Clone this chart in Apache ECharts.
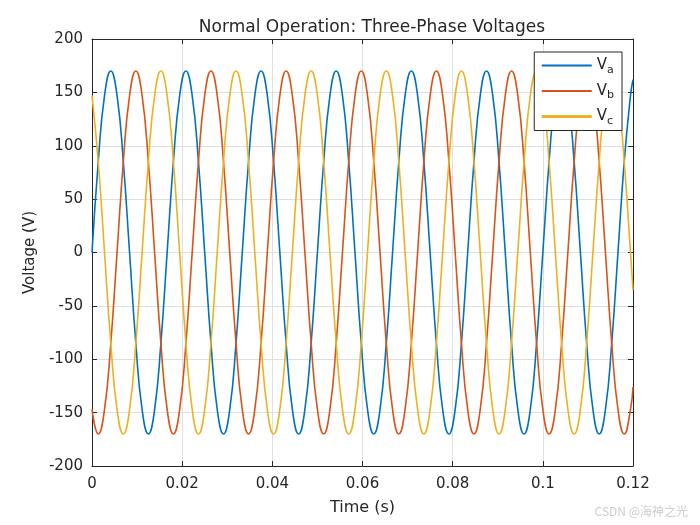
<!DOCTYPE html>
<html>
<head>
<meta charset="utf-8">
<title>Normal Operation: Three-Phase Voltages</title>
<script src="https://cdn.jsdelivr.net/npm/echarts@6/dist/echarts.min.js"></script>
<style>
  html, body { margin: 0; padding: 0; background: #fff; }
  #chart { width: 700px; height: 525px; }
</style>
</head>
<body>
<div id="chart"></div>
<script>
// time samples (s), one row per 60 Hz cycle
var timeS = [
  0, 0.001389, 0.002778, 0.004167, 0.005556, 0.006944, 0.008333, 0.009722, 0.011111, 0.0125, 0.013889, 0.015278,
  0.016667, 0.018056, 0.019444, 0.020833, 0.022222, 0.023611, 0.025, 0.026389, 0.027778, 0.029167, 0.030556, 0.031944,
  0.033333, 0.034722, 0.036111, 0.0375, 0.038889, 0.040278, 0.041667, 0.043056, 0.044444, 0.045833, 0.047222, 0.048611,
  0.05, 0.051389, 0.052778, 0.054167, 0.055556, 0.056944, 0.058333, 0.059722, 0.061111, 0.0625, 0.063889, 0.065278,
  0.066667, 0.068056, 0.069444, 0.070833, 0.072222, 0.073611, 0.075, 0.076389, 0.077778, 0.079167, 0.080556, 0.081944,
  0.083333, 0.084722, 0.086111, 0.0875, 0.088889, 0.090278, 0.091667, 0.093056, 0.094444, 0.095833, 0.097222, 0.098611,
  0.1, 0.101389, 0.102778, 0.104167, 0.105556, 0.106944, 0.108333, 0.109722, 0.111111, 0.1125, 0.113889, 0.115278,
  0.116667, 0.118056, 0.119444, 0.12
];

// phase voltages (V)
var va = [
  0, 85, 147, 170, 147, 85, 0, -85, -147, -170, -147, -85,
  0, 85, 147, 170, 147, 85, 0, -85, -147, -170, -147, -85,
  0, 85, 147, 170, 147, 85, 0, -85, -147, -170, -147, -85,
  0, 85, 147, 170, 147, 85, 0, -85, -147, -170, -147, -85,
  0, 85, 147, 170, 147, 85, 0, -85, -147, -170, -147, -85,
  0, 85, 147, 170, 147, 85, 0, -85, -147, -170, -147, -85,
  0, 85, 147, 170, 147, 85, 0, -85, -147, -170, -147, -85,
  0, 85, 147, 162
];
var vb = [
  -147, -170, -147, -85, 0, 85, 147, 170, 147, 85, 0, -85,
  -147, -170, -147, -85, 0, 85, 147, 170, 147, 85, 0, -85,
  -147, -170, -147, -85, 0, 85, 147, 170, 147, 85, 0, -85,
  -147, -170, -147, -85, 0, 85, 147, 170, 147, 85, 0, -85,
  -147, -170, -147, -85, 0, 85, 147, 170, 147, 85, 0, -85,
  -147, -170, -147, -85, 0, 85, 147, 170, 147, 85, 0, -85,
  -147, -170, -147, -85, 0, 85, 147, 170, 147, 85, 0, -85,
  -147, -170, -147, -126
];
var vc = [
  147, 85, 0, -85, -147, -170, -147, -85, 0, 85, 147, 170,
  147, 85, 0, -85, -147, -170, -147, -85, 0, 85, 147, 170,
  147, 85, 0, -85, -147, -170, -147, -85, 0, 85, 147, 170,
  147, 85, 0, -85, -147, -170, -147, -85, 0, 85, 147, 170,
  147, 85, 0, -85, -147, -170, -147, -85, 0, 85, 147, 170,
  147, 85, 0, -85, -147, -170, -147, -85, 0, 85, 147, 170,
  147, 85, 0, -85, -147, -170, -147, -85, 0, 85, 147, 170,
  147, 85, 0, -35
];

var seriesNames = ["Va", "Vb", "Vc"];
var seriesColors = ["#0072BD", "#D95319", "#EDB120"];
var seriesValues = [va, vb, vc];

var font = "'DejaVu Sans', 'Liberation Sans', Arial, sans-serif";
var textColor = "#262626";

function pairs(vals) {
  var out = [];
  for (var i = 0; i < vals.length; i++) {
    out.push([timeS[i], vals[i]]);
  }
  return out;
}

var series = [];
for (var i = 0; i < seriesNames.length; i++) {
  series.push({
    name: seriesNames[i],
    type: "line",
    data: pairs(seriesValues[i]),
    symbol: "none",
    smooth: 0.5,
    color: seriesColors[i],
    lineStyle: { width: 1.6, color: seriesColors[i] }
  });
}

// axis settings shared by bottom/left and the mirrored top/right box axes
function boxAxis(pos, isX, showLabel) {
  return {
    type: "value",
    position: pos,
    min: isX ? 0 : -200,
    max: isX ? 0.12 : 200,
    interval: isX ? 0.02 : 50,
    axisLine: { show: true, onZero: false, lineStyle: { color: textColor, width: 1 } },
    axisTick: { show: true, inside: true, length: 5, lineStyle: { color: textColor } },
    axisLabel: {
      show: showLabel,
      color: textColor,
      fontFamily: font,
      fontSize: 15,
      margin: isX ? 11 : 9
    },
    splitLine: { show: showLabel, lineStyle: { color: "#dfdfdf", width: 1 } }
  };
}

var xMain = boxAxis("bottom", true, true);
xMain.name = "Time (s)";
xMain.nameLocation = "middle";
xMain.nameGap = 34;
xMain.nameTextStyle = { color: textColor, fontFamily: font, fontSize: 16 };

var yMain = boxAxis("left", false, true);
yMain.name = "Voltage (V)";
yMain.nameLocation = "middle";
yMain.nameGap = 45;
yMain.nameTextStyle = { color: textColor, fontFamily: font, fontSize: 15 };

var chart = echarts.init(document.getElementById("chart"));
chart.setOption({
  backgroundColor: "#fff",
  animation: false,
  title: {
    text: "Normal Operation: Three-Phase Voltages",
    left: 367,
    textAlign: "center",
    top: 14,
    textStyle: { color: textColor, fontFamily: font, fontSize: 17, fontWeight: "normal" }
  },
  grid: { left: 92, right: 67, top: 39, bottom: 59 },
  xAxis: [xMain, boxAxis("top", true, false)],
  yAxis: [yMain, boxAxis("right", false, false)],
  legend: {
    orient: "vertical",
    right: 78,
    top: 52,
    padding: [6, 8, 4, 6],
    itemWidth: 50,
    itemHeight: 14,
    itemGap: 8,
    backgroundColor: "#fff",
    borderColor: textColor,
    borderWidth: 1,
    borderRadius: 0,
    itemStyle: { opacity: 0 },
    data: [
      { name: "Va", lineStyle: { width: 2 } },
      { name: "Vb", lineStyle: { width: 2 } },
      { name: "Vc", lineStyle: { width: 3 } }
    ],
    formatter: function (name) {
      return "V{sub|" + name.substring(1) + "}";
    },
    textStyle: {
      color: textColor,
      fontFamily: font,
      fontSize: 15,
      rich: {
        sub: { fontFamily: font, fontSize: 11, color: textColor, padding: [9, 0, 0, 0] }
      }
    }
  },
  graphic: [{
    type: "text",
    right: 12,
    top: 505,
    style: { text: "CSDN @海神之光", fill: "#cccccc", fontSize: 12, fontFamily: "'Noto Sans CJK SC', sans-serif" }
  }],
  series: series
});
</script>
</body>
</html>
